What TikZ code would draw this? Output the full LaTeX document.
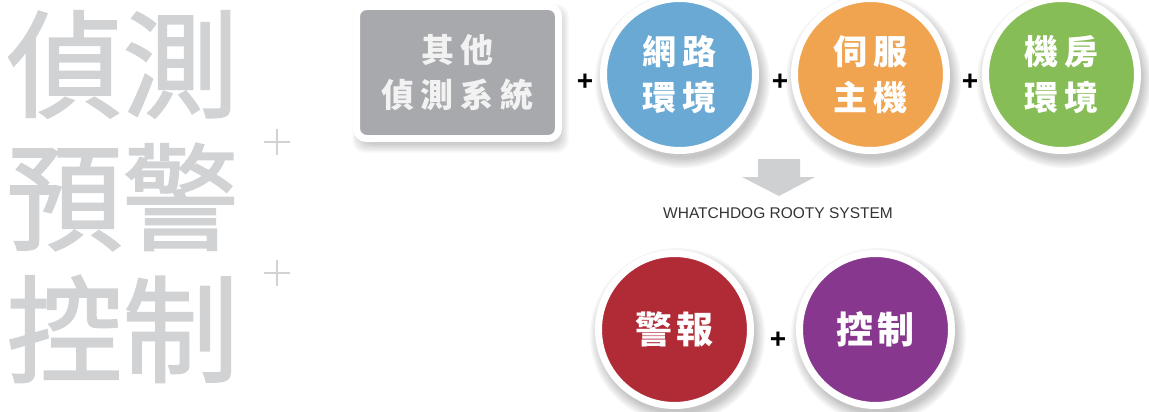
\documentclass[tikz,border=0pt]{standalone}
\usepackage{fontspec}
\setmainfont{Liberation Sans}
\newfontfamily\cjk{Noto Sans CJK TC}
\newfontfamily\cjkmed[FakeBold=1.6]{Noto Sans CJK TC}
\definecolor{bigtext}{HTML}{D1D2D4}
\definecolor{boxgray}{HTML}{A7A9AC}
\definecolor{boxtext}{HTML}{F2F2F3}
\definecolor{cblue}{HTML}{6AA9D4}
\definecolor{corange}{HTML}{F1A450}
\definecolor{cgreen}{HTML}{87BD56}
\definecolor{cred}{HTML}{B12B37}
\definecolor{cpurple}{HTML}{87378D}
\definecolor{arrowgray}{HTML}{CFD0D2}
\definecolor{captext}{HTML}{333333}
\tikzset{
  circ/.style={circle, draw=white, line width=7pt, minimum size=152pt, inner sep=0pt,
    text=white, align=center, font=\cjk\bfseries\fontsize{34}{46}\selectfont},
  bigcirc/.style={circ, font=\cjk\bfseries\fontsize{37}{46}\selectfont},
  graybox/.style={rectangle, rounded corners=10pt, draw=white, line width=7pt,
    minimum width=202pt, minimum height=132pt, fill=boxgray, text=boxtext, align=center,
    inner sep=0pt, font=\cjk\bfseries\fontsize{33}{45}\selectfont},
  plussign/.style={font=\bfseries\fontsize{28}{28}\selectfont, text=black, inner sep=0pt},
  bigword/.style={font=\cjkmed\fontsize{116}{116}\selectfont, text=bigtext, inner sep=0pt},
  thinplus/.style={draw=bigtext, line width=2.5pt},
}
\newcommand{\circshadow}[3]{%
  \foreach \k in {0,...,6} {\fill[black, opacity=0.035] (#1+3,#2+6) circle ({#3+8-\k*1.6});}}
\begin{document}
\begin{tikzpicture}[x=1pt,y=-1pt]
\useasboundingbox (0,0) rectangle (1149,412);
% left large words
\node[bigword] (w1) at (122.5,64.5) {偵測};
\node[bigword] (w2) at (122.5,197) {預警};
\node[bigword] (w3) at (122.5,329) {控制};
\coordinate (p1) at (277,142);
\coordinate (p2) at (277,273);
\draw[thinplus] ([xshift=-13pt]p1) -- ([xshift=13pt]p1) ([yshift=-13pt]p1) -- ([yshift=13pt]p1);
\draw[thinplus] ([xshift=-13pt]p2) -- ([xshift=13pt]p2) ([yshift=-13pt]p2) -- ([yshift=13pt]p2);
% shadows
\foreach \k in {0,...,6} {\fill[black, opacity=0.035, rounded corners=12pt]
  (357.5-8+\k*1.6+3, 6.5-8+\k*1.6+6) rectangle (557.5+8-\k*1.6+3, 138.5+8-\k*1.6+6);}
\circshadow{679.5}{74.5}{79.5}
\circshadow{870.5}{74.5}{79.5}
\circshadow{1061.5}{74.5}{79.5}
\circshadow{674.5}{329.5}{79.5}
\circshadow{875.5}{329.5}{79.5}
% top row
\node[graybox] (other) at (457.5,72.5) {其\hspace{7pt}他\\偵\hspace{7pt}測\hspace{7pt}系\hspace{7pt}統};
\node[circ, fill=cblue] (net) at (679.5,74.5) {網\hspace{6pt}路\\環\hspace{6pt}境};
\node[circ, fill=corange] (srv) at (870.5,74.5) {伺\hspace{6pt}服\\主\hspace{6pt}機};
\node[circ, fill=cgreen] (room) at (1061.5,74.5) {機\hspace{6pt}房\\環\hspace{6pt}境};
\node[plussign] (a1) at (585,82) {+};
\node[plussign] (a2) at (780,82) {+};
\node[plussign] (a3) at (970,82) {+};
% arrow
\fill[arrowgray] (758,159) -- (800,159) -- (800,177) -- (815,177) -- (779,196) -- (742,177) -- (758,177) -- cycle;
\node[font=\fontsize{15.5}{15.5}\selectfont, text=captext, inner sep=0pt] (cap) at (778,213) {WHATCHDOG ROOTY SYSTEM};
% bottom row
\node[bigcirc, fill=cred] (alarm) at (674.5,329.5) {警\hspace{4pt}報};
\node[bigcirc, fill=cpurple] (ctrl) at (875.5,329.5) {控\hspace{4pt}制};
\node[plussign] (a4) at (778,340) {+};
\end{tikzpicture}
\end{document}
